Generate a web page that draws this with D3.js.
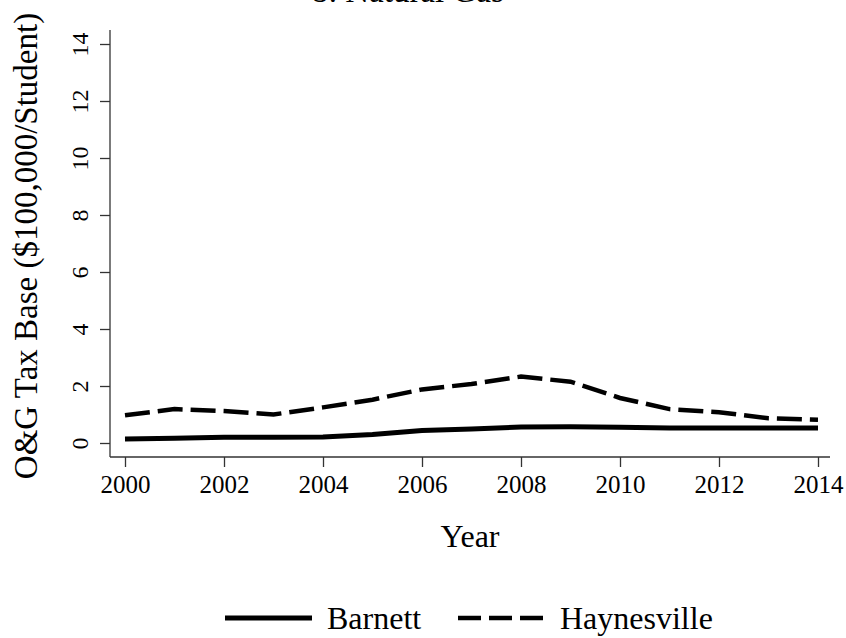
<!DOCTYPE html>
<html>
<head>
<meta charset="utf-8">
<script src="https://cdn.jsdelivr.net/npm/d3@7"></script>
<style>
  html, body { margin: 0; padding: 0; background: #fff; }
  text { font-family: "Liberation Serif", "Times New Roman", serif; fill: #000; }
</style>
</head>
<body>
<svg id="chart" width="846" height="638"></svg>
<script>
const years = [2000, 2001, 2002, 2003, 2004, 2005, 2006, 2007, 2008, 2009, 2010, 2011, 2012, 2013, 2014];
const barnett = [0.14, 0.17, 0.20, 0.20, 0.21, 0.30, 0.44, 0.49, 0.56, 0.57, 0.55, 0.53, 0.53, 0.53, 0.53];
const haynesville = [0.97, 1.19, 1.12, 1.00, 1.25, 1.52, 1.88, 2.07, 2.33, 2.15, 1.58, 1.19, 1.08, 0.87, 0.82];
const xTicks = [2000, 2002, 2004, 2006, 2008, 2010, 2012, 2014];
const yTicks = [0, 2, 4, 6, 8, 10, 12, 14];
const seriesNames = ["Barnett", "Haynesville"];
const titleText = "b. Natural Gas";
const xTitle = "Year";
const yTitle = "O&G Tax Base ($100,000/Student)";

(function () {
const svg = d3.select("#chart");
const axisColor = "#333";

const x = d3.scaleLinear().domain([2000, 2014]).range([125, 818]);
const y = d3.scaleLinear().domain([0, 14]).range([443, 44]);

// plot region bounds
const pLeft = 110, pRight = 830, pTop = 30, pBottom = 457;

// Title (partially cut off at top, as in the reference)
svg.append("text").attr("x", 408).attr("y", 2).attr("text-anchor", "middle")
  .style("font-size", "33px").text(titleText);

// Y axis
const yAxis = d3.axisLeft(y).tickValues(yTicks).tickSize(10).tickPadding(0).tickFormat(d3.format("d"));
const gy = svg.append("g").attr("transform", `translate(${pLeft},0)`).call(yAxis);
gy.select(".domain").remove();
gy.selectAll(".tick line").attr("stroke", axisColor).attr("stroke-width", 1.3);
gy.selectAll(".tick text")
  .attr("x", 0).attr("y", 0).attr("dy", null)
  .attr("text-anchor", "middle")
  .attr("transform", "translate(-28,0) rotate(-90)")
  .attr("dominant-baseline", "middle")
  .style("font-size", "24px").style("font-family", "Liberation Serif, serif").attr("fill", "#000");
svg.append("line").attr("x1", pLeft).attr("x2", pLeft).attr("y1", pTop).attr("y2", pBottom)
  .attr("stroke", axisColor).attr("stroke-width", 1.3);

// X axis
const xAxis = d3.axisBottom(x).tickValues(xTicks).tickSize(10).tickPadding(8).tickFormat(d3.format("d"));
const gx = svg.append("g").attr("transform", `translate(0,${pBottom})`).call(xAxis);
gx.select(".domain").remove();
gx.selectAll(".tick line").attr("stroke", axisColor).attr("stroke-width", 1.3);
gx.selectAll(".tick text").style("font-size", "25px").style("font-family", "Liberation Serif, serif").attr("fill", "#000");
svg.append("line").attr("x1", pLeft).attr("x2", pRight).attr("y1", pBottom).attr("y2", pBottom)
  .attr("stroke", axisColor).attr("stroke-width", 1.3);

// Axis titles
svg.append("text").attr("x", 470).attr("y", 547).attr("text-anchor", "middle")
  .style("font-size", "32px").text(xTitle);
svg.append("text").attr("transform", "translate(37,246) rotate(-90)").attr("text-anchor", "middle")
  .style("font-size", "33px").text(yTitle);

// Lines
const line = d3.line().x((d, i) => x(years[i])).y(d => y(d));
svg.append("path").datum(barnett).attr("d", line)
  .attr("fill", "none").attr("stroke", "#000").attr("stroke-width", 5);
svg.append("path").datum(haynesville).attr("d", line)
  .attr("fill", "none").attr("stroke", "#000").attr("stroke-width", 4.5)
  .attr("stroke-dasharray", "25,8");

// Legend
const lg = svg.append("g");
lg.append("line").attr("x1", 225).attr("x2", 312).attr("y1", 618).attr("y2", 618)
  .attr("stroke", "#000").attr("stroke-width", 5);
lg.append("text").attr("x", 327).attr("y", 629).style("font-size", "32px").text(seriesNames[0]);
lg.append("line").attr("x1", 458).attr("x2", 543).attr("y1", 618).attr("y2", 618)
  .attr("stroke", "#000").attr("stroke-width", 4.5).attr("stroke-dasharray", "23,8");
lg.append("text").attr("x", 560).attr("y", 629).style("font-size", "32px").text(seriesNames[1]);
})();
</script>
</body>
</html>
